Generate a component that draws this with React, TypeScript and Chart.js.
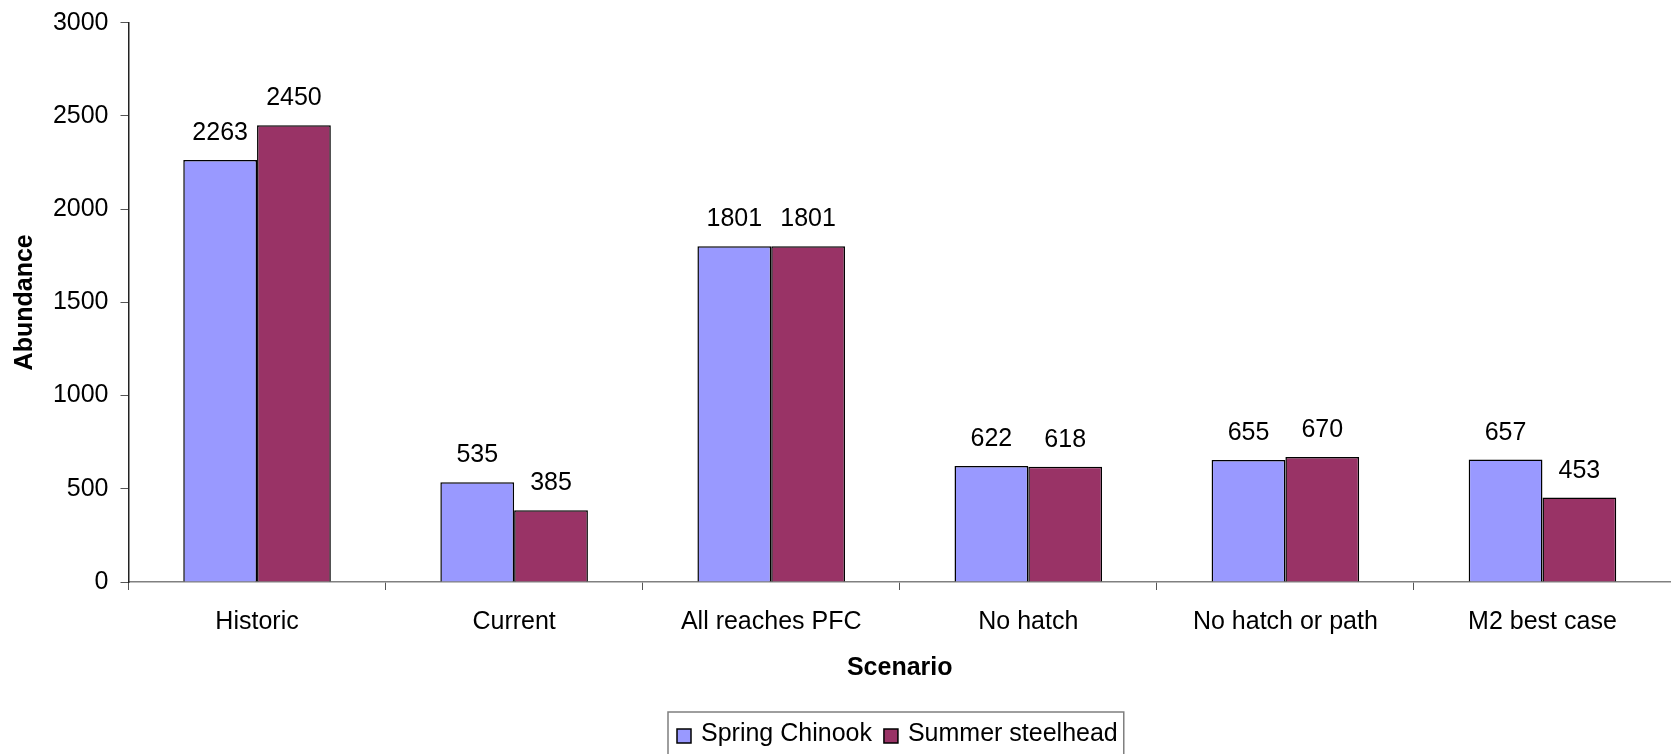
import { useEffect, useRef } from "react";
import { Chart, registerables } from "chart.js";

Chart.register(...registerables);

// Scenario categories and modelled abundance per species
const scenarios = [
  "Historic",
  "Current",
  "All reaches PFC",
  "No hatch",
  "No hatch or path",
  "M2 best case",
];
const springChinook = [2263, 535, 1801, 622, 655, 657];
const summerSteelhead = [2450, 385, 1801, 618, 670, 453];
const seriesNames = ["Spring Chinook", "Summer steelhead"];
const seriesColors = ["#9999FF", "#993366"];
const yMin = 0;
const yMax = 3000;
const yStep = 500;

const FONT = '"Liberation Sans", Arial, Helvetica, sans-serif';
const FONT_SIZE = 25;

// Prints each bar's value above it
const valueLabels = {
  id: "valueLabels",
  afterDatasetsDraw(chart: any) {
    const ctx = chart.ctx;
    ctx.save();
    ctx.font = `${FONT_SIZE}px ${FONT}`;
    ctx.fillStyle = "#000";
    ctx.textAlign = "center";
    ctx.textBaseline = "alphabetic";
    chart.data.datasets.forEach((ds: any, i: number) => {
      const meta = chart.getDatasetMeta(i);
      meta.data.forEach((bar: any, j: number) => {
        ctx.fillText(String(ds.data[j]), bar.x, bar.y - 20);
      });
    });
    ctx.restore();
  },
};

// Legend in a framed box below the axis title
const boxedLegend = {
  id: "boxedLegend",
  afterDraw(chart: any) {
    const ctx = chart.ctx;
    ctx.save();
    ctx.font = `${FONT_SIZE}px ${FONT}`;
    const items = chart.data.datasets.map((ds: any) => ({
      label: ds.label as string,
      color: ds.backgroundColor as string,
    }));
    const widths = items.map((it: any) => ctx.measureText(it.label).width);
    const padL = 9;
    const padR = 6;
    const swatch = 14;
    const gap = 10;
    const itemGap = 12;
    let total = padL + padR;
    widths.forEach((w: number, i: number) => {
      total += swatch + gap + w + (i > 0 ? itemGap : 0);
    });
    const left = 668;
    const top = 712;
    ctx.strokeStyle = "#7f7f7f";
    ctx.lineWidth = 1.5;
    ctx.strokeRect(left, top, total, 60);

    let x = left + padL;
    items.forEach((it: any, i: number) => {
      ctx.fillStyle = it.color;
      ctx.fillRect(x, 729, swatch, swatch);
      ctx.strokeStyle = "#000";
      ctx.lineWidth = 1.5;
      ctx.strokeRect(x, 729, swatch, swatch);
      ctx.fillStyle = "#000";
      ctx.textAlign = "left";
      ctx.textBaseline = "alphabetic";
      ctx.fillText(it.label, x + swatch + gap, 741);
      x += swatch + gap + widths[i] + itemGap;
    });
    ctx.restore();
  },
};

export default function App() {
  const canvasRef = useRef<HTMLCanvasElement | null>(null);

  useEffect(() => {
    if (!canvasRef.current) return;
    const chart = new Chart(canvasRef.current, {
      type: "bar",
      data: {
        labels: scenarios,
        datasets: [
          {
            label: seriesNames[0],
            data: springChinook,
            backgroundColor: seriesColors[0],
            borderColor: "#000",
            borderWidth: 1.5,
            categoryPercentage: 0.574,
            barPercentage: 1,
          },
          {
            label: seriesNames[1],
            data: summerSteelhead,
            backgroundColor: seriesColors[1],
            borderColor: "#000",
            borderWidth: 1.5,
            categoryPercentage: 0.574,
            barPercentage: 1,
          },
        ],
      },
      options: {
        responsive: false,
        animation: false,
        devicePixelRatio: 1,
        layout: { padding: { left: 0, top: 22.7, right: -2, bottom: 71 } },
        plugins: {
          legend: { display: false },
          tooltip: { enabled: false },
        },
        scales: {
          x: {
            type: "category",
            grid: {
              drawOnChartArea: false,
              drawTicks: true,
              tickLength: 8,
              color: "#555",
              offset: true,
            },
            border: { color: "#808080", width: 1.5 },
            ticks: {
              font: { family: FONT, size: FONT_SIZE },
              color: "#000",
              padding: 17.5,
              maxRotation: 0,
              autoSkip: false,
            },
            title: {
              display: true,
              text: "Scenario",
              font: { family: FONT, size: FONT_SIZE, weight: "bold" },
              color: "#000",
              padding: { top: 0, bottom: 0 },
            },
            afterFit: (s: any) => {
              s.height = 101;
            },
          },
          y: {
            min: yMin,
            max: yMax,
            grid: {
              drawOnChartArea: false,
              drawTicks: true,
              tickLength: 8,
              color: "#555",
            },
            border: { color: "#222", width: 1.5 },
            ticks: {
              stepSize: yStep,
              font: { family: FONT, size: FONT_SIZE },
              color: "#000",
              padding: 12,
              callback: (v: any) => String(v),
            },
            title: {
              display: true,
              text: "Abundance",
              font: { family: FONT, size: FONT_SIZE, weight: "bold" },
              color: "#000",
              padding: { top: 10, bottom: 0 },
            },
            afterFit: (s: any) => {
              s.width = 128.5;
              s.paddingTop = 0;
              s.paddingBottom = 0;
            },
          },
        },
      },
      plugins: [valueLabels, boxedLegend],
    } as any);
    return () => chart.destroy();
  }, []);

  return (
    <div
      style={{
        position: "absolute",
        left: 0,
        top: 0,
        width: 1671,
        height: 754,
        background: "#fff",
      }}
    >
      <canvas
        ref={canvasRef}
        width={1671}
        height={754}
        style={{ display: "block", width: 1671, height: 754 }}
      />
    </div>
  );
}
